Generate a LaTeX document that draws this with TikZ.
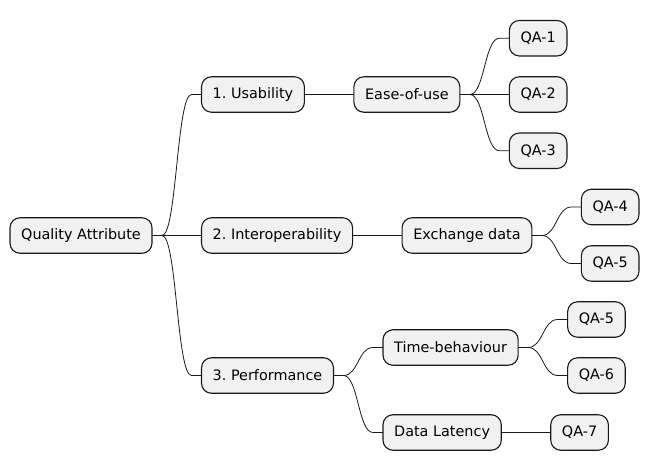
\documentclass[tikz,border=0pt]{standalone}
\usepackage{fontspec}
\setmainfont{DejaVu Sans}
\usetikzlibrary{positioning,calc}
\definecolor{boxfill}{HTML}{F1F1F1}
\definecolor{boxline}{HTML}{181818}

\begin{document}
\frenchspacing
\begin{tikzpicture}[
  x=1pt, y=1pt,
  every node/.style={font=\fontsize{14.4}{16}\selectfont},
  box/.style={draw=boxline, fill=boxfill, line width=1.1pt, rounded corners=10pt,
  minimum height=35.5pt, inner xsep=11.2pt, inner ysep=0pt, outer sep=0pt},
  edge/.style={draw=boxline, line width=0.8pt},
  node distance=49.5pt
]
\useasboundingbox (0,0) rectangle (645,471);
% root
\node[box, anchor=west] (qattr) at (10,235.5) {Quality Attribute};
% first level
\node[box, right=of qattr, yshift=141pt] (usab) {1. Usability};
\node[box, right=of qattr] (interop) {2. Interoperability};
\node[box, right=of qattr, yshift=-140pt] (perf) {3. Performance};
% second level
\node[box, right=of usab] (ease) {Ease-of-use};
\node[box, right=of interop] (exch) {Exchange data};
\node[box, right=of perf, yshift=28pt] (timeb) {Time-behaviour};
\node[box, right=of perf, yshift=-57pt] (dlat) {Data Latency};
% leaves
\node[box, right=of ease, yshift=56.25pt] (qa1) {QA-1};
\node[box, right=of ease] (qa2) {QA-2};
\node[box, right=of ease, yshift=-56.25pt] (qa3) {QA-3};
\node[box, right=of exch, yshift=28.5pt] (qa4) {QA-4};
\node[box, right=of exch, yshift=-28pt] (qa5) {QA-5};
\node[box, right=of timeb, yshift=28pt] (qa5b) {QA-5};
\node[box, right=of timeb, yshift=-28pt] (qa6) {QA-6};
\node[box, right=of dlat] (qa7) {QA-7};
% branches
\foreach \a/\b in {qattr/usab, qattr/interop, qattr/perf, usab/ease, interop/exch,
  perf/timeb, perf/dlat, ease/qa1, ease/qa2, ease/qa3, exch/qa4, exch/qa5,
  timeb/qa5b, timeb/qa6, dlat/qa7}
  \draw[edge] (\a.east) -- ++(10,0) .. controls +(14.75,0) and +(-14.75,0) .. ($(\b.west)+(-10,0)$) -- (\b.west);
\end{tikzpicture}
\end{document}
